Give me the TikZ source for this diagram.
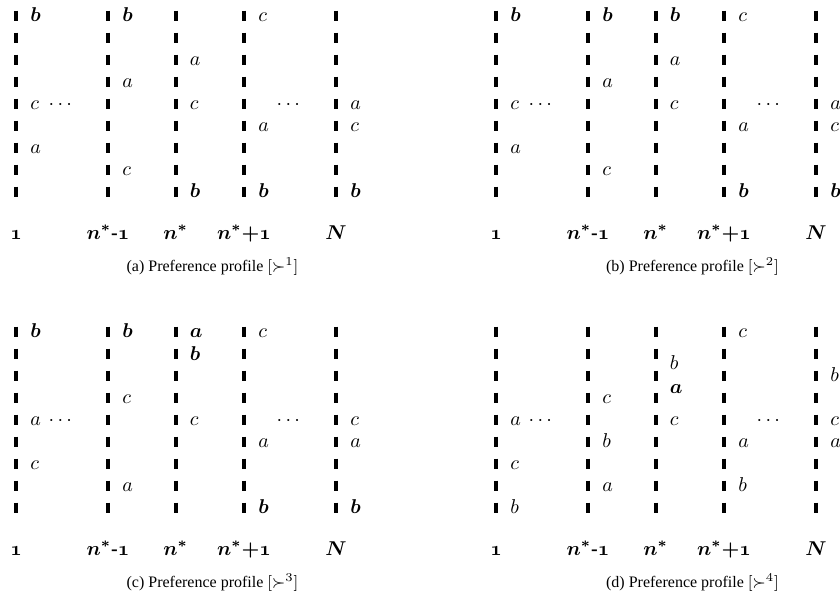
\documentclass[tikz,border=0pt]{standalone}
\usepackage{amsmath}
\usepackage[no-math]{fontspec}
\setmainfont{Liberation Serif}
\usetikzlibrary{calc}

\begin{document}
\begin{tikzpicture}[
  x=0.5pt, y=-0.5pt,
  voter/.style={line width=2pt, dash pattern=on 5pt off 6pt},
  pref/.style={anchor=base west, inner sep=0pt},
  bpref/.style={pref, font=\boldmath},
  dots/.style={anchor=base, inner sep=0pt},
  agent/.style={anchor=base, inner sep=0pt, font=\boldmath},
  subcap/.style={anchor=base, inner sep=0pt, font=\footnotesize},
]
\useasboundingbox (0,0) rectangle (840,610);

% voter columns, agent names and captions of the four profiles
\foreach \p/\dx/\dy/\k in {a/0/0/1, b/480/0/2, c/0/316/3, d/480/316/4} {
  \foreach \i/\x/\n in {1/16/{\mathnormal{1}}, 2/108/{n^*\textbf{-}\mathnormal{1}},
      3/175.5/{n^*}, 4/244/{n^*{+}\mathnormal{1}}, 5/336/{N}} {
    \coordinate (\p-top\i) at (\x+\dx, 10.7+\dy);
    \coordinate (\p-bot\i) at (\x+\dx, 197+\dy);
    \draw[voter] (\p-top\i) -- (\p-bot\i);
    \node[agent] (\p-n\i) at (\x+\dx, 239+\dy) {$\n$};
  }
  \node[dots] (\p-dots1) at ($(\p-top1)!0.5!(\p-top2)+(0,99)$) {$\cdots$};
  \node[dots] (\p-dots2) at ($(\p-top4)!0.5!(\p-top5)+(0,99)$) {$\cdots$};
  \node[subcap] (\p-cap) at (212.5+\dx, 271+\dy) {(\p) Preference profile $[\succ^{\k}]$};
}

% (a)
\foreach \i/\s/\l/\st in {1/1/b/bpref, 1/5/c/pref, 1/7/a/pref,
    2/1/b/bpref, 2/4/a/pref, 2/8/c/pref,
    3/3/a/pref, 3/5/c/pref, 3/9/b/bpref,
    4/1/c/pref, 4/6/a/pref, 4/9/b/bpref,
    5/5/a/pref, 5/6/c/pref, 5/9/b/bpref}
  \node[\st] (a-\i\l) at ($(a-top\i)+(14,{11+22*(\s-1)})$) {$\l$};

% (b)
\foreach \i/\s/\l/\st in {1/1/b/bpref, 1/5/c/pref, 1/7/a/pref,
    2/1/b/bpref, 2/4/a/pref, 2/8/c/pref,
    3/1/b/bpref, 3/3/a/pref, 3/5/c/pref,
    4/1/c/pref, 4/6/a/pref, 4/9/b/bpref,
    5/5/a/pref, 5/6/c/pref, 5/9/b/bpref}
  \node[\st] (b-\i\l) at ($(b-top\i)+(14,{11+22*(\s-1)})$) {$\l$};

% (c)
\foreach \i/\s/\l/\st in {1/1/b/bpref, 1/5/a/pref, 1/7/c/pref,
    2/1/b/bpref, 2/4/c/pref, 2/8/a/pref,
    3/1/a/bpref, 3/2.05/b/bpref, 3/5/c/pref,
    4/1/c/pref, 4/6/a/pref, 4/9/b/bpref,
    5/5/c/pref, 5/6/a/pref, 5/9/b/bpref}
  \node[\st] (c-\i\l) at ($(c-top\i)+(14,{11+22*(\s-1)})$) {$\l$};

% (d)
\foreach \i/\s/\l/\st in {1/5/a/pref, 1/7/c/pref, 1/9/b/pref,
    2/4/c/pref, 2/6/b/pref, 2/8/a/pref,
    3/2.45/b/pref, 3/3.55/a/bpref, 3/5/c/pref,
    4/1/c/pref, 4/6/a/pref, 4/8/b/pref,
    5/3/b/pref, 5/5/c/pref, 5/6/a/pref}
  \node[\st] (d-\i\l) at ($(d-top\i)+(14,{11+22*(\s-1)})$) {$\l$};

\end{tikzpicture}
\end{document}
